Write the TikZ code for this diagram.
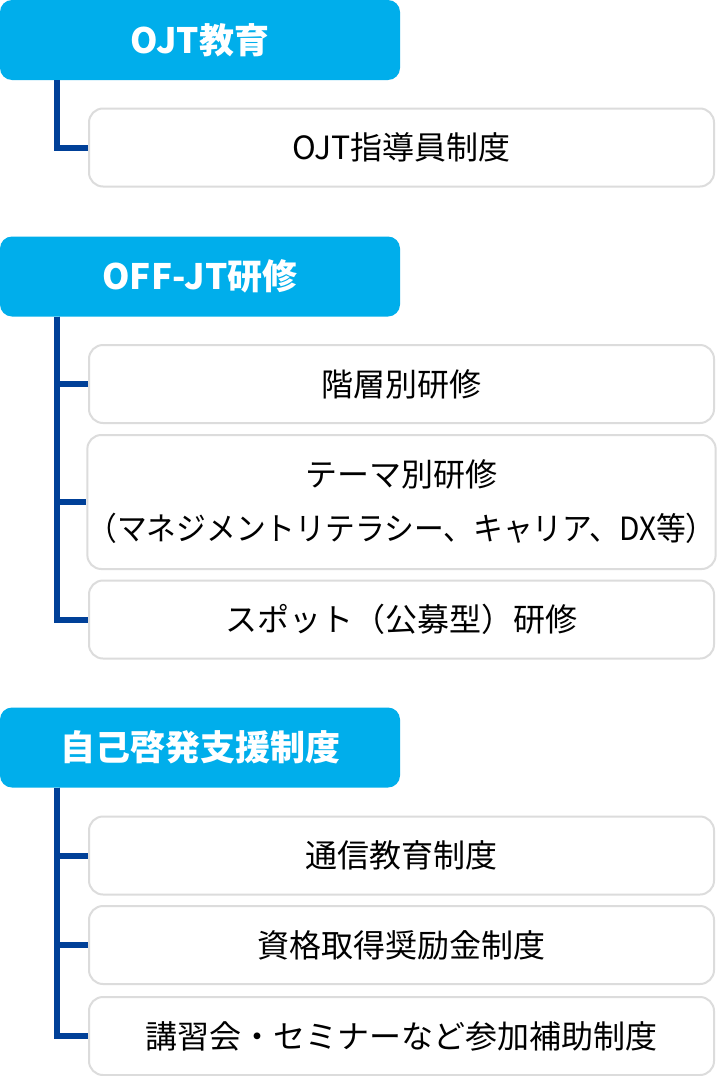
\documentclass[tikz,border=0pt]{standalone}
\usepackage{fontspec}
\setmainfont{Noto Sans CJK JP}
\usepackage{graphicx}
\definecolor{hdrcyan}{HTML}{00AEEB}
\definecolor{conblue}{HTML}{004098}
\definecolor{boxgray}{HTML}{DCDCDC}
\begin{document}
\begin{tikzpicture}[x=1pt,y=-1pt,
  hdr/.style={rectangle, rounded corners=12pt, fill=hdrcyan, text=white,
    minimum width=400pt, minimum height=80pt, inner sep=0pt,
    font=\fontsize{35}{40}\selectfont\bfseries},
  child/.style={rectangle, rounded corners=14pt, draw=boxgray, line width=2pt, fill=white,
    minimum width=625pt, minimum height=78pt, inner sep=0pt, align=center,
    font=\fontsize{32}{54}\selectfont},
  conn/.style={draw=conblue, line width=6pt, line join=miter}]
\useasboundingbox[fill=white] (0,0) rectangle (716,1076);

% Section 1
\node[hdr] (h1) at (200,40) {OJT教育};
\node[child] (c1) at (401.5,147.5) {OJT指導員制度};
\coordinate (t1) at (57,80);
\draw[conn] (t1) |- (c1.west);

% Section 2
\node[hdr] (h2) at (200,276.5) {OFF-JT研修};
\node[child] (c2) at (401.5,384) {階層別研修};
\node[child, minimum height=134pt] (c3) at (401.5,502) {テーマ別研修\\\scalebox{0.93}[1]{（マネジメントリテラシー、キャリア、DX等）}};
\node[child] (c4) at (401.5,619.5) {スポット（公募型）研修};
\coordinate (t2) at (57,316.5);
\draw[conn] (t2) |- (c2.west);
\draw[conn] (t2) |- (c3.west);
\draw[conn] (t2) |- (c4.west);

% Section 3
\node[hdr] (h3) at (200,747.5) {自己啓発支援制度};
\node[child] (c5) at (401.5,855.5) {通信教育制度};
\node[child] (c6) at (401.5,945) {資格取得奨励金制度};
\node[child] (c7) at (401.5,1036) {講習会・セミナーなど参加補助制度};
\coordinate (t3) at (57,787.5);
\draw[conn] (t3) |- (c5.west);
\draw[conn] (t3) |- (c6.west);
\draw[conn] (t3) |- (c7.west);
\end{tikzpicture}
\end{document}
